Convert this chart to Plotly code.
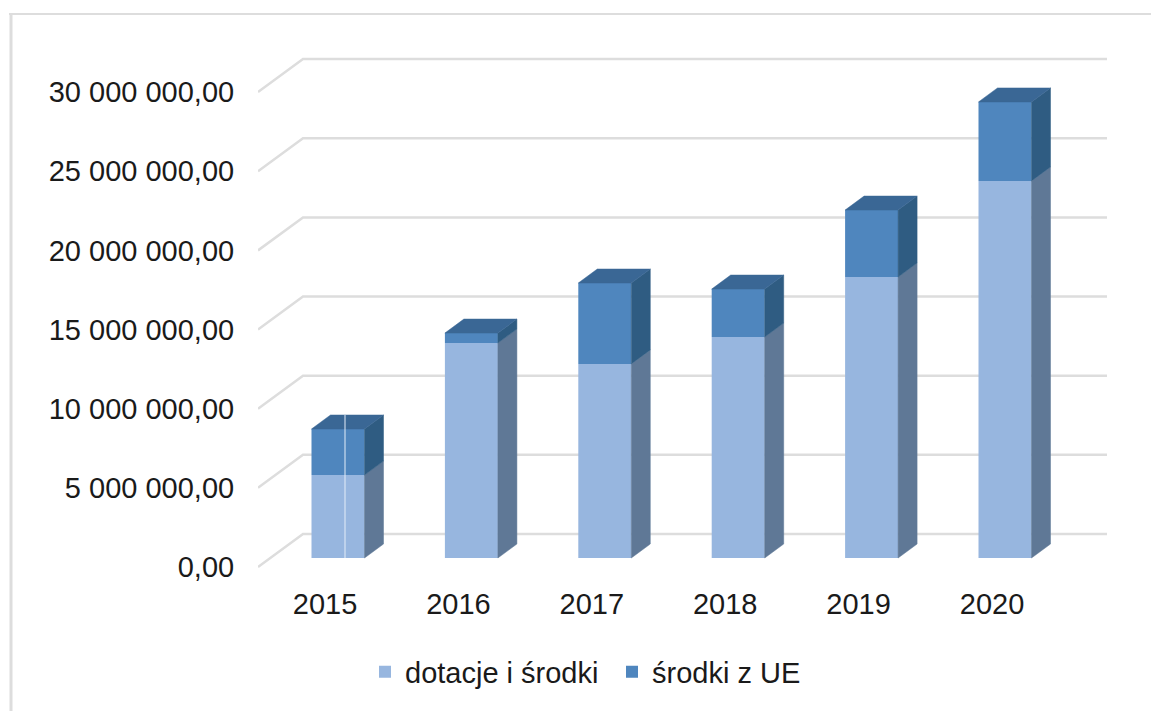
import plotly.graph_objects as go

years = [2015, 2016, 2017, 2018, 2019, 2020]
dotacje = [5240000, 13580000, 12260000, 13960000, 17750000, 23820000]
srodki_ue = [2910000, 630000, 5110000, 3030000, 4230000, 4990000]
axis_ticks = [0, 5000000, 10000000, 15000000, 20000000, 25000000, 30000000]
axis_labels = ["0,00", "5 000 000,00", "10 000 000,00", "15 000 000,00",
               "20 000 000,00", "25 000 000,00", "30 000 000,00"]
series_names = ["dotacje i środki", "środki z UE"]

# Pixel geometry of the plot frame and the oblique projection
W, H = 1151, 711
L, R, T, B = 258, 1107, 50, 575
PX_YEAR = 133.4
PX_UNIT = 15.83 / 1e6
BAR_W = 53 / PX_YEAR
DX = 19 / PX_YEAR
DY = 14 / PX_UNIT
WALL_DX = 45 / PX_YEAR
WALL_DY = 33 / PX_UNIT


def x_range(px):
    return [2015 + (L - px) / PX_YEAR, 2015 + (R - px) / PX_YEAR]


def y_range(px):
    return [(px - B) / PX_UNIT, (px - T) / PX_UNIT]


def polygons(boxes):
    xs, ys = [], []
    for pts in boxes:
        xs += [p[0] for p in pts] + [pts[0][0], None]
        ys += [p[1] for p in pts] + [pts[0][1], None]
    return xs, ys


C_LIGHT, C_DARK = "#97B6DF", "#4F86BE"
C_SIDE_LIGHT, C_SIDE_DARK = "#5F7896", "#2F5C82"
C_TOP = "#3A6795"
GRID = "#DDDDDD"
FONT = "Liberation Sans"

fig = go.Figure()

# Back wall grid with the oblique floor-to-wall segments (base subplot, drawn first)
x0 = x_range(325)[0]
x1 = x_range(325)[1]
gx, gy = [], []
for v in axis_ticks:
    gx += [x0, x0 + WALL_DX, x1, None]
    gy += [v, v + WALL_DY, v + WALL_DY, None]
fig.add_trace(go.Scatter(x=gx, y=gy, mode="lines", line=dict(color=GRID, width=2.5),
                         showlegend=False, hoverinfo="skip"))

# Front faces
fig.add_trace(go.Bar(x=years, y=dotacje, width=BAR_W, name=series_names[0],
                     marker=dict(color=C_LIGHT, line_width=0), xaxis="x2", yaxis="y2"))
fig.add_trace(go.Bar(x=years, y=srodki_ue, width=BAR_W, name=series_names[1], base=dotacje,
                     marker=dict(color=C_DARK, line_width=0), xaxis="x2", yaxis="y2"))

# Side and top faces, derived from the series values
right = [y + BAR_W / 2 for y in years]
side_light = [[(r, 0), (r + DX, DY), (r + DX, d + DY), (r, d)] for r, d in zip(right, dotacje)]
side_dark = [[(r, d), (r + DX, d + DY), (r + DX, d + u + DY), (r, d + u)]
             for r, d, u in zip(right, dotacje, srodki_ue)]
top = [[(r - BAR_W, d + u), (r - BAR_W + DX, d + u + DY), (r + DX, d + u + DY), (r, d + u)]
       for r, d, u in zip(right, dotacje, srodki_ue)]
for boxes, color in [(side_light, C_SIDE_LIGHT), (side_dark, C_SIDE_DARK), (top, C_TOP)]:
    px, py = polygons(boxes)
    fig.add_trace(go.Scatter(x=px, y=py, mode="lines", fill="toself", fillcolor=color,
                             line=dict(color=color, width=0.5), showlegend=False,
                             hoverinfo="skip", xaxis="x2", yaxis="y2"))

# Thin light seam through the first bar
seam = years[0] + 7 / PX_YEAR
fig.add_trace(go.Scatter(x=[seam, seam], y=[0, dotacje[0] + srodki_ue[0] + DY], mode="lines",
                         line=dict(color="#E4EDF8", width=1), showlegend=False,
                         hoverinfo="skip", xaxis="x2", yaxis="y2"))

fig.update_layout(
    width=W, height=H, margin=dict(l=L, r=W - R, t=T, b=H - B),
    paper_bgcolor="white", plot_bgcolor="white", barmode="overlay",
    font=dict(family=FONT, size=29, color="#1A1A1A"),
    xaxis=dict(range=x_range(325), tickmode="array", tickvals=years, ticktext=[str(y) for y in years],
               showgrid=False, zeroline=False, showline=False, ticks="outside", ticklen=3,
               tickcolor="rgba(0,0,0,0)"),
    yaxis=dict(range=y_range(567), tickmode="array", tickvals=axis_ticks, ticktext=axis_labels,
               showgrid=False, zeroline=False, showline=False, ticks="outside", ticklen=17,
               tickcolor="rgba(0,0,0,0)"),
    xaxis2=dict(range=x_range(338), overlaying="x", visible=False),
    yaxis2=dict(range=y_range(558), overlaying="y", visible=False),
    legend=dict(orientation="h", x=(365 - L) / (R - L), xanchor="left", y=(B - 672) / (B - T),
                yanchor="middle", font=dict(family=FONT, size=29), traceorder="normal",
                entrywidth=202, entrywidthmode="pixels"),
    shapes=[
        dict(type="line", xref="paper", yref="paper", x0=(9 - L) / (R - L), x1=(W - L) / (R - L),
             y0=(B - 14) / (B - T), y1=(B - 14) / (B - T), line=dict(color="#DDDDDD", width=2)),
        dict(type="line", xref="paper", yref="paper", x0=(11 - L) / (R - L), x1=(11 - L) / (R - L),
             y0=(B - 14) / (B - T), y1=(B - H) / (B - T), line=dict(color="#DDDDDD", width=3)),
    ],
)

fig.write_html("out.html", config={"displayModeBar": False},
               post_script="document.body.style.margin='0';document.documentElement.style.overflow='hidden';")
